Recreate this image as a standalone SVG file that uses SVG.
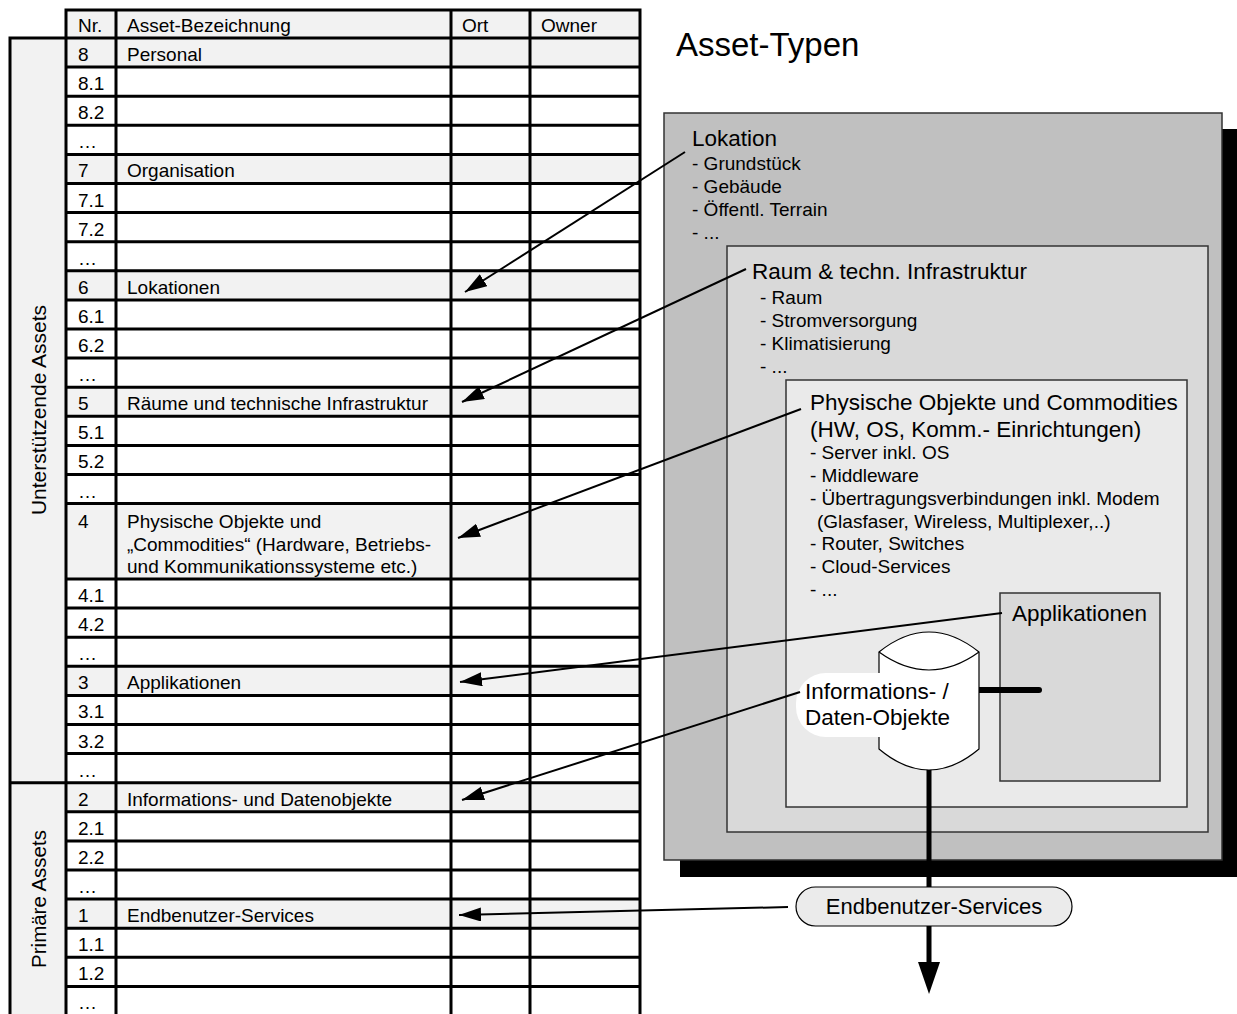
<svg xmlns="http://www.w3.org/2000/svg" width="1237" height="1014" viewBox="0 0 1237 1014">
<defs>
<style>
text{font-family:"Liberation Sans",Arial,sans-serif;fill:#000}
.t{font-size:19px}
.h{font-size:22.5px}
.i{font-size:19px}
.grid{fill:none;stroke:#000;stroke-width:3}
.hl{fill:#f2f2f2}
.box{stroke:#333;stroke-width:1.5}
.con{fill:none;stroke:#000;stroke-width:2}
</style>
<marker id="ah" markerUnits="userSpaceOnUse" markerWidth="24" markerHeight="16" refX="22" refY="7" orient="auto">
<path d="M0,0 L22,7 L0,14 Z" fill="#000"/>
</marker>
</defs>
<rect width="1237" height="1014" fill="#fff"/>

<g id="table">
<rect x="10" y="38" width="56" height="980" fill="#f2f2f2"/>
<rect class="hl" x="66" y="10" width="574" height="28"/>
<rect class="hl" x="66" y="38" width="574" height="29.1"/>
<rect class="hl" x="66" y="154.4" width="574" height="29.1"/>
<rect class="hl" x="66" y="270.8" width="574" height="29.1"/>
<rect class="hl" x="66" y="387.2" width="574" height="29.1"/>
<rect class="hl" x="66" y="503.6" width="574" height="75.4"/>
<rect class="hl" x="66" y="666.3" width="574" height="29.1"/>
<rect class="hl" x="66" y="782.7" width="574" height="29.1"/>
<rect class="hl" x="66" y="899.1" width="574" height="29.1"/>
<path class="grid" d="M66,10H640 M66,38H640 M66,67.1H640 M66,96.2H640 M66,125.3H640 M66,154.4H640 M66,183.5H640 M66,212.6H640 M66,241.7H640 M66,270.8H640 M66,299.9H640 M66,329H640 M66,358.1H640 M66,387.2H640 M66,416.3H640 M66,445.4H640 M66,474.5H640 M66,503.6H640 M66,579H640 M66,608.1H640 M66,637.2H640 M66,666.3H640 M66,695.4H640 M66,724.5H640 M66,753.6H640 M66,782.7H640 M66,811.8H640 M66,840.9H640 M66,870H640 M66,899.1H640 M66,928.2H640 M66,957.3H640 M66,986.4H640 M66,8.5V1014 M116,8.5V1014 M451,8.5V1014 M530,8.5V1014 M640,8.5V1014 M10,1014V38H66 M10,782.7H66"/>
<text class="t" x="78" y="32">Nr.</text>
<text class="t" x="127" y="32">Asset-Bezeichnung</text>
<text class="t" x="462" y="32">Ort</text>
<text class="t" x="541" y="32">Owner</text>
<text class="t" x="78" y="61">8</text><text class="t" x="127" y="61">Personal</text>
<text class="t" x="78" y="90.1">8.1</text>
<text class="t" x="78" y="119.2">8.2</text>
<text class="t" x="78" y="148.3">…</text>
<text class="t" x="78" y="177.4">7</text><text class="t" x="127" y="177.4">Organisation</text>
<text class="t" x="78" y="206.5">7.1</text>
<text class="t" x="78" y="235.6">7.2</text>
<text class="t" x="78" y="264.7">…</text>
<text class="t" x="78" y="293.8">6</text><text class="t" x="127" y="293.8">Lokationen</text>
<text class="t" x="78" y="322.9">6.1</text>
<text class="t" x="78" y="352">6.2</text>
<text class="t" x="78" y="381.1">…</text>
<text class="t" x="78" y="410.2">5</text><text class="t" x="127" y="410.2">Räume und technische Infrastruktur</text>
<text class="t" x="78" y="439.3">5.1</text>
<text class="t" x="78" y="468.4">5.2</text>
<text class="t" x="78" y="497.5">…</text>
<text class="t" x="78" y="528">4</text>
<text class="t" x="127" y="528">Physische Objekte und</text>
<text class="t" x="127" y="551">„Commodities“ (Hardware, Betriebs-</text>
<text class="t" x="127" y="573">und Kommunikationssysteme etc.)</text>
<text class="t" x="78" y="602">4.1</text>
<text class="t" x="78" y="631.1">4.2</text>
<text class="t" x="78" y="660.2">…</text>
<text class="t" x="78" y="689.3">3</text><text class="t" x="127" y="689.3">Applikationen</text>
<text class="t" x="78" y="718.4">3.1</text>
<text class="t" x="78" y="747.5">3.2</text>
<text class="t" x="78" y="776.6">…</text>
<text class="t" x="78" y="805.7">2</text><text class="t" x="127" y="805.7">Informations- und Datenobjekte</text>
<text class="t" x="78" y="834.8">2.1</text>
<text class="t" x="78" y="863.9">2.2</text>
<text class="t" x="78" y="893">…</text>
<text class="t" x="78" y="922.1">1</text><text class="t" x="127" y="922.1">Endbenutzer-Services</text>
<text class="t" x="78" y="951.2">1.1</text>
<text class="t" x="78" y="980.3">1.2</text>
<text class="t" x="78" y="1009.4">…</text>
</g>

<g id="group-labels">
<text x="46" y="410" font-size="21" text-anchor="middle" transform="rotate(-90 46 410)">Unterstützende Assets</text>
<text x="46" y="899" font-size="20.5" text-anchor="middle" transform="rotate(-90 46 899)">Primäre Assets</text>
</g>

<text id="title" x="676" y="56" font-size="33">Asset-Typen</text>

<g id="lokation">
<rect x="680" y="129" width="560" height="748" fill="#000"/>
<rect class="box" x="664" y="113" width="558" height="747" fill="#c0c0c0"/>
<text class="h" x="692" y="146">Lokation</text>
<text class="i" x="692" y="170">- Grundstück</text>
<text class="i" x="692" y="193">- Gebäude</text>
<text class="i" x="692" y="216">- Öffentl. Terrain</text>
<text class="i" x="692" y="239">- ...</text>
</g>

<g id="raum">
<rect class="box" x="727" y="246" width="481" height="586" fill="#d9d9d9"/>
<text class="h" x="752" y="279">Raum &amp; techn. Infrastruktur</text>
<text class="i" x="760" y="304">- Raum</text>
<text class="i" x="760" y="327">- Stromversorgung</text>
<text class="i" x="760" y="350">- Klimatisierung</text>
<text class="i" x="760" y="373">- ...</text>
</g>

<g id="physische">
<rect class="box" x="786" y="380" width="401" height="427" fill="#eaeaea"/>
<text class="h" x="810" y="410">Physische Objekte und Commodities</text>
<text class="h" x="810" y="437">(HW, OS, Komm.- Einrichtungen)</text>
<text class="i" x="810" y="459">- Server inkl. OS</text>
<text class="i" x="810" y="482">- Middleware</text>
<text class="i" x="810" y="505">- Übertragungsverbindungen inkl. Modem</text>
<text class="i" x="817" y="528">(Glasfaser, Wireless, Multiplexer,..)</text>
<text class="i" x="810" y="550">- Router, Switches</text>
<text class="i" x="810" y="573">- Cloud-Services</text>
<text class="i" x="810" y="596">- ...</text>
</g>

<g id="applikationen">
<rect class="box" x="1000" y="593" width="160" height="188" fill="#d9d9d9"/>
<text class="h" x="1012" y="621">Applikationen</text>
</g>

<g id="connectors">
<line x1="929" y1="768" x2="929" y2="965" stroke="#000" stroke-width="5"/>
<polygon points="918,962 940,962 929,994" fill="#000"/>
<line x1="979" y1="690" x2="1039" y2="690" stroke="#000" stroke-width="6" stroke-linecap="round"/>
</g>

<g id="daten-objekte">
<path d="M879,652 Q929,612 979,652 L979,749 Q929,791 879,749 Z" fill="#fff" stroke="#000" stroke-width="1.2"/>
<path d="M879,652 Q929,688 979,652" fill="none" stroke="#000" stroke-width="1.2"/>
<rect x="796" y="673" width="160" height="64" rx="30" fill="#fff"/>
<text class="h" x="805" y="699">Informations- /</text>
<text class="h" x="805" y="725">Daten-Objekte</text>
</g>

<g id="endbenutzer">
<rect x="796" y="887" width="276" height="39" rx="19.5" fill="#ebebeb" stroke="#000" stroke-width="1.2"/>
<text x="934" y="914" font-size="22" text-anchor="middle">Endbenutzer-Services</text>
</g>

<g id="arrows">
<line class="con" x1="685" y1="152" x2="465" y2="292" marker-end="url(#ah)"/>
<line class="con" x1="746" y1="269" x2="462" y2="402" marker-end="url(#ah)"/>
<line class="con" x1="801" y1="409" x2="458" y2="538" marker-end="url(#ah)"/>
<line class="con" x1="1002" y1="613" x2="460" y2="682" marker-end="url(#ah)"/>
<line class="con" x1="800" y1="692" x2="462" y2="800" marker-end="url(#ah)"/>
<line class="con" x1="788" y1="907" x2="459" y2="915" marker-end="url(#ah)"/>
</g>
</svg>
